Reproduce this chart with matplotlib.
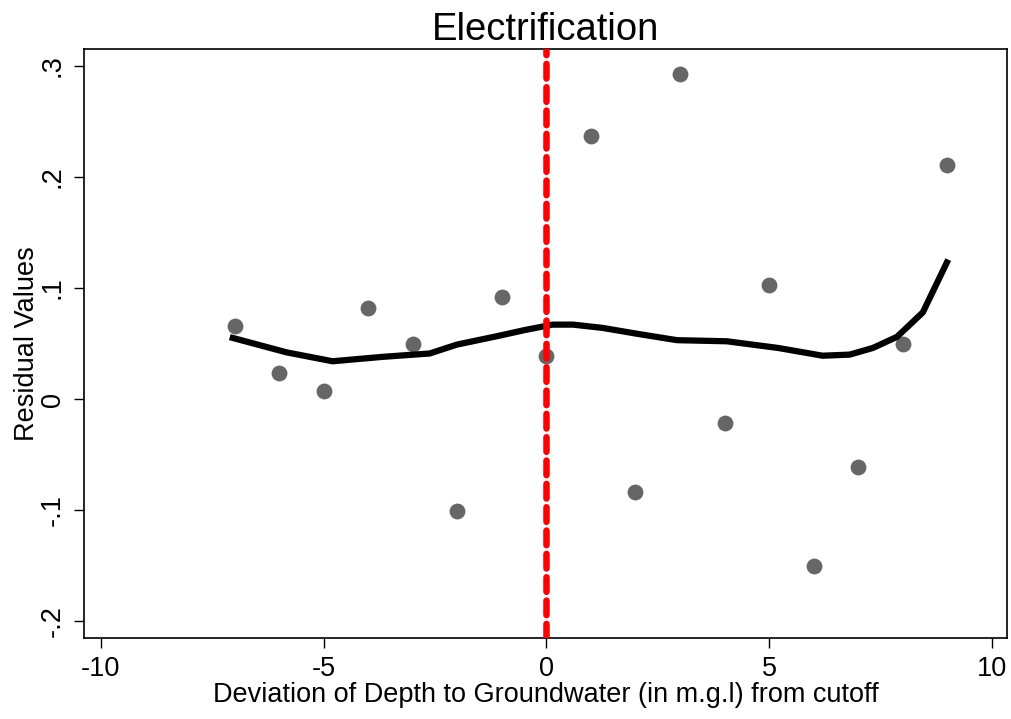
import matplotlib.pyplot as plt

plt.rcParams['font.family'] = ['Liberation Sans', 'DejaVu Sans']
plt.rcParams['lines.scale_dashes'] = False

# residuals by distance from the cutoff
dev = [-7, -6, -5, -4, -3, -2, -1, 0, 1, 2, 3, 4, 5, 6, 7, 8, 9]
resid = [0.066, 0.023, 0.007, 0.082, 0.050, -0.101, 0.092, 0.039,
         0.237, -0.084, 0.293, -0.022, 0.103, -0.150, -0.061, 0.050, 0.211]

# smoothed fit
fit_x = [-7.04, -5.83, -4.80, -3.67, -2.62, -2.01, -1.06, -0.5, 0.14, 0.6,
         1.27, 2.0, 2.93, 4.05, 5.2, 6.20, 6.81, 7.33, 7.87, 8.45, 8.99]
fit_y = [0.055, 0.042, 0.034, 0.038, 0.041, 0.049, 0.057, 0.062, 0.067, 0.067,
         0.064, 0.059, 0.053, 0.052, 0.046, 0.039, 0.040, 0.046, 0.056, 0.078, 0.123]

cutoff = 0

fig = plt.figure(figsize=(10.11, 7.19), dpi=100)
ax = fig.add_axes([84 / 1011, 1 - 637.7 / 719, (1007 - 84) / 1011, (637.7 - 49.3) / 719])

ax.scatter(dev, resid, s=130, color='#666666', zorder=2, linewidths=0)
ax.plot(fit_x, fit_y, color='black', lw=4.5, zorder=3, solid_joinstyle='round')
ax.axvline(cutoff, color='red', lw=4.7, dashes=(10.5, 6.3), dash_capstyle='round', zorder=4)

ax.set_xlim(-10.38, 10.34)
ax.set_ylim(-0.215, 0.315)
ax.set_xticks([-10, -5, 0, 5, 10])
ax.set_xticklabels(['-10', '-5', '0', '5', '10'])
ax.set_yticks([-0.2, -0.1, 0, 0.1, 0.2, 0.3])
ax.set_yticklabels(['-.2', '-.1', '0', '.1', '.2', '.3'], rotation=90, va='center')
ax.tick_params(labelsize=19.5, length=7, width=1, direction='out', pad=6)

for sp in ax.spines.values():
    sp.set_linewidth(1.2)

ax.set_title('Electrification', fontsize=27.5, pad=7)
ax.set_xlabel('Deviation of Depth to Groundwater (in m.g.l) from cutoff', fontsize=19.5, labelpad=0)
ax.set_ylabel('Residual Values', fontsize=19.5, labelpad=0)

fig.savefig('out.png', dpi=100)
